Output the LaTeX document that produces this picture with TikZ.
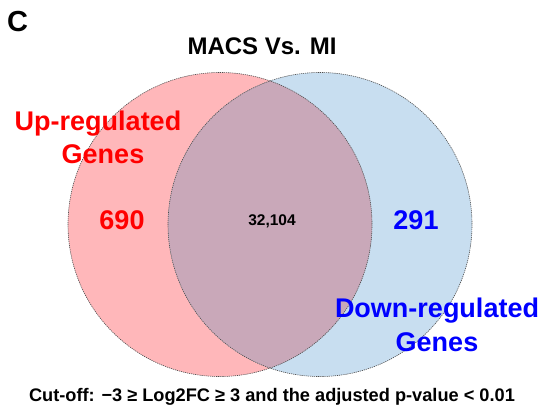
\documentclass[tikz,border=0pt]{standalone}
\usepackage{fontspec}
\setmainfont{Liberation Sans}
\definecolor{upfill}{RGB}{255,183,186}
\definecolor{downfill}{RGB}{200,222,240}
\definecolor{bothfill}{RGB}{201,168,185}
\definecolor{uptext}{RGB}{255,0,0}
\definecolor{downtext}{RGB}{0,0,255}
\begin{document}
\begin{tikzpicture}[x=1pt,y=-1pt,
  setrim/.style={draw=black!70,line width=0.6pt,dash pattern=on 1.2pt off 0.9pt},
  biglabel/.style={font=\fontsize{27}{30}\selectfont\bfseries,align=center},
  countlabel/.style={font=\fontsize{27}{30}\selectfont\bfseries}]
\useasboundingbox (0,0) rectangle (544,412);

% the two gene sets
\coordinate (cu) at (220,224.5);
\coordinate (cd) at (320,224.5);
\fill[upfill] (cu) circle[radius=152];
\fill[downfill] (cd) circle[radius=152];
\begin{scope}
  \clip (cu) circle[radius=152];
  \fill[bothfill] (cd) circle[radius=152];
\end{scope}
\draw[setrim] (cu) circle[radius=152];
\draw[setrim] (cd) circle[radius=152];

% panel letter and title
\node[font=\fontsize{29}{32}\selectfont\bfseries,anchor=base west,inner sep=0] (panel) at (7,32) {C};
\node[font=\fontsize{24}{28}\selectfont\bfseries,anchor=base,inner sep=0] (title) at (262,55) {MACS Vs. MI};

% set labels
\node[biglabel,text=uptext,anchor=base,inner sep=0] (uplab) at (98,130) {Up-regulated};
\node[biglabel,text=uptext,anchor=base,inner sep=0] (upgenes) at (103,164) {Genes};
\node[biglabel,text=downtext,anchor=base,inner sep=0] (downlab) at (437,317) {Down-regulated};
\node[biglabel,text=downtext,anchor=base,inner sep=0] (downgenes) at (437,351) {Genes};

% counts
\node[countlabel,text=uptext] (nup) at (122,220) {690};
\node[countlabel,text=downtext] (ndown) at (416,220) {291};
\node[font=\fontsize{15.5}{18}\selectfont\bfseries] (nboth) at (272,221) {32,104};

% footnote
\node[font=\fontsize{18.2}{20}\selectfont\bfseries,anchor=base,inner sep=0] (cutoff) at (272,401)
  {Cut-off: −3 ≥ Log2FC ≥ 3 and the adjusted p-value < 0.01};
\end{tikzpicture}
\end{document}
